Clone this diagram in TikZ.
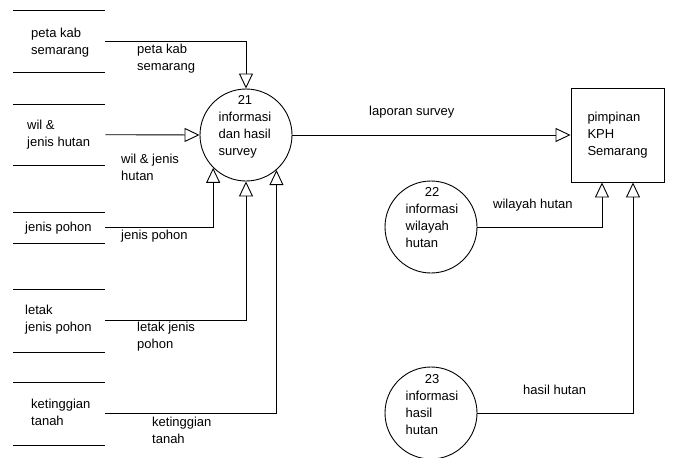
\documentclass[tikz,border=0pt]{standalone}
\usepackage{fontspec}
\setmainfont{Liberation Sans}
\usetikzlibrary{arrows.meta}
\begin{document}
\begin{tikzpicture}[x=1pt,y=-1pt,
  every node/.style={font=\fontsize{13}{17}\selectfont},
  txt/.style={anchor=west,align=left,inner sep=0pt},
  store/.style={minimum width=92pt,minimum height=#1,inner sep=0pt,anchor=north west},
  process/.style={circle,draw,line width=0.9pt,minimum size=92pt,inner sep=0pt},
  entity/.style={draw,line width=0.9pt,minimum width=93pt,minimum height=94pt,align=left,inner sep=0pt},
  flow/.style={line width=0.9pt,-{Triangle[open,length=15pt,width=14pt]}},
  sline/.style={line width=0.9pt}]
\useasboundingbox (0,0) rectangle (673,458);

% data stores (open-ended boxes)
\node[store=62pt] (st1) at (13,10) {};
\node[store=61pt] (st2) at (13,104) {};
\node[store=31pt] (st3) at (13,212) {};
\node[store=63pt] (st4) at (13,289) {};
\node[store=63pt] (st5) at (13,382) {};
\foreach \s in {st1,st2,st3,st4,st5}{
  \draw[sline] (\s.north west) -- (\s.north east);
  \draw[sline] (\s.south west) -- (\s.south east);
}
\node[txt] (st1t) at (31,43) {peta kab\\semarang};
\node[txt] (st2t) at (27,135) {wil \&\\jenis hutan};
\node[txt] (st3t) at (25,228) {jenis pohon};
\node[txt] (st4t) at (25,320) {letak\\jenis pohon};
\node[txt] (st5t) at (31,412) {ketinggian\\tanah};

% processes
\node[process] (p21) at (246,135) {};
\node[process] (p22) at (431,227) {};
\node[process] (p23) at (431,413) {};
\node[inner sep=0pt] (p21t) at (245,127) {\begin{tabular}{@{}l@{}}\multicolumn{1}{@{}c@{}}{21}\\informasi\\dan hasil\\survey\end{tabular}};
\node[inner sep=0pt] (p22t) at (432,219) {\begin{tabular}{@{}l@{}}\multicolumn{1}{@{}c@{}}{22}\\informasi\\wilayah\\hutan\end{tabular}};
\node[inner sep=0pt] (p23t) at (432,405.5) {\begin{tabular}{@{}l@{}}\multicolumn{1}{@{}c@{}}{23}\\informasi\\hasil\\hutan\end{tabular}};

% external entity
\node[entity] (kph) at (617.5,135) {pimpinan\\KPH\\Semarang};

% data flows
\draw[flow] (st1.east) -| (p21.north);
\draw[flow] (st2.east) -- (p21.west);
\draw[flow] (st3.east) -| (p21.225);
\draw[flow] (st4.east) -| (p21.south);
\draw[flow] (st5.east) -| (p21.-49);
\draw[flow] (p21.east) -- (kph.west);
\draw[flow] (p22.east) -| ([xshift=-15.5pt]kph.south);
\draw[flow] (p23.east) -| ([xshift=15.5pt]kph.south);

% flow labels
\node[txt] (l1) at (137,59) {peta kab\\semarang};
\node[txt] (l2) at (121,167) {wil \& jenis\\hutan};
\node[txt] (l3) at (121,236) {jenis pohon};
\node[txt] (l4) at (137,337) {letak jenis\\pohon};
\node[txt] (l5) at (152,430) {ketinggian\\tanah};
\node[txt] (l6) at (369,112) {laporan survey};
\node[txt] (l7) at (493,205) {wilayah hutan};
\node[txt] (l8) at (523,390) {hasil hutan};
\end{tikzpicture}
\end{document}
